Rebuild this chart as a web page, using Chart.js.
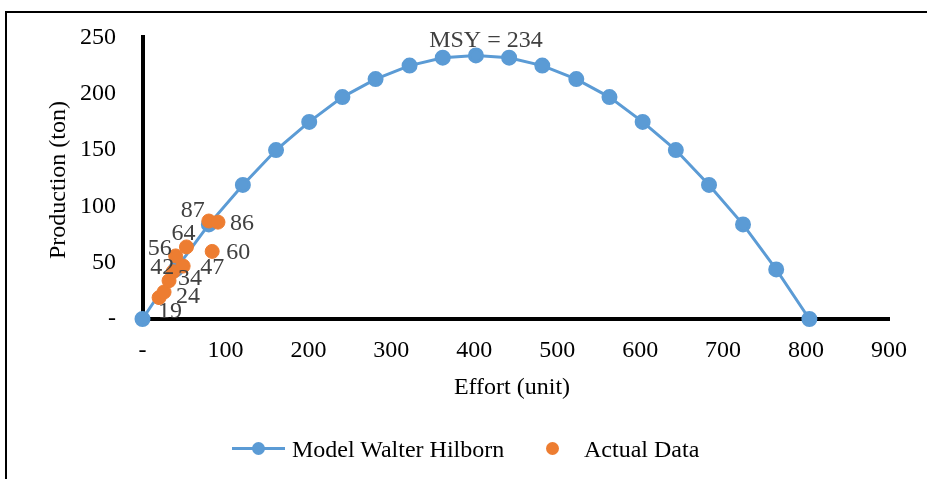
<!DOCTYPE html>
<html>
<head>
<meta charset="utf-8">
<script src="https://cdn.jsdelivr.net/npm/chart.js@4"></script>
<style>
  body { margin: 0; background: #fff; overflow: hidden; font-family: "Liberation Serif", "Times New Roman", serif; }
  #frame { position: absolute; left: 5px; top: 11px; width: 940px; height: 480px; border-top: 2px solid #000; border-left: 2px solid #000; }
  #chart { position: absolute; left: 0; top: 0; }
  .title { position: absolute; font-size: 24px; color: #000; white-space: nowrap; line-height: 1; }
  #ytitle { left: 57px; top: 180px; transform: translate(-50%, -50%) rotate(-90deg); }
  #xtitle { left: 512px; top: 386px; transform: translate(-50%, -50%); }
  .leg { position: absolute; font-size: 24px; line-height: 1; white-space: nowrap; transform: translateY(-50%); }
  .lineicon { position: absolute; left: 232px; top: 447px; width: 53px; height: 3px; background: #5B9BD5; }
  .lineicon span { position: absolute; left: 20px; top: -5px; width: 13px; height: 13px; border-radius: 50%; background: #5B9BD5; }
  .doticon { position: absolute; left: 546px; top: 442px; width: 13px; height: 13px; border-radius: 50%; background: #ED7D31; }
</style>
</head>
<body>
<div id="frame">
  <canvas id="chart" width="930" height="467"></canvas>
</div>
<div class="title" id="ytitle">Production (ton)</div>
<div class="title" id="xtitle">Effort (unit)</div>
<div class="lineicon"><span></span></div>
<div class="leg" style="left:292px; top:449px;">Model Walter Hilborn</div>
<div class="doticon"></div>
<div class="leg" style="left:584px; top:449px;">Actual Data</div>
<script>
// model curve (Walter Hilborn)
const modelEffort = [0, 40, 80, 121, 161, 201, 241, 281, 322, 362, 402, 442, 482, 523, 563, 603, 643, 683, 724, 764, 804];
const modelProd = [0, 44, 84, 119, 150, 175, 197, 213, 225, 232, 234, 232, 225, 213, 197, 175, 150, 119, 84, 44, 0];
// observed
const actualEffort = [20, 26, 32, 37, 49, 40, 53, 84, 80, 91];
const actualProd = [19, 24, 34, 42, 47, 56, 64, 60, 87, 86];
const actualLabels = ["19", "24", "34", "42", "47", "56", "64", "60", "87", "86"];
const msyIndex = 10;
const msyText = "MSY = 234";
const xTicks = [0, 100, 200, 300, 400, 500, 600, 700, 800, 900];
const yTicks = [0, 50, 100, 150, 200, 250];

// where each label sits relative to its point
const labelOffsets = [[11, 14], [24, 5], [21, -2], [-11, -4], [29, 2], [-16, -7], [-3, -13], [26, 1], [-16, -10], [24, 2]];

const toPts = (xs, ys) => xs.map((x, i) => ({ x: x, y: ys[i] }));
const serif = "'Liberation Serif', serif";

const labelPlugin = {
  id: "pointLabels",
  afterDatasetsDraw(chart) {
    const ctx = chart.ctx;
    ctx.save();
    ctx.font = "24px " + serif;
    ctx.fillStyle = "#404040";
    ctx.textAlign = "center";
    ctx.textBaseline = "middle";
    chart.getDatasetMeta(0).data.forEach((pt, i) => {
      const o = labelOffsets[i];
      ctx.fillText(actualLabels[i], pt.x + o[0], pt.y + o[1]);
    });
    const peak = chart.getDatasetMeta(1).data[msyIndex];
    ctx.fillText(msyText, peak.x + 10, peak.y - 15);
    ctx.restore();
  }
};

new Chart(document.getElementById("chart"), {
  type: "scatter",
  data: {
    datasets: [
      {
        label: "Actual Data",
        data: toPts(actualEffort, actualProd),
        backgroundColor: "#ED7D31",
        borderColor: "#ED7D31",
        pointRadius: 7,
        clip: false,
        order: 0
      },
      {
        label: "Model Walter Hilborn",
        data: toPts(modelEffort, modelProd),
        showLine: true,
        borderColor: "#5B9BD5",
        backgroundColor: "#5B9BD5",
        borderWidth: 3,
        pointRadius: 6.5,
        clip: false,
        order: 1
      }
    ]
  },
  options: {
    responsive: false,
    animation: false,
    layout: { padding: { top: 0, right: 48, left: 0, bottom: 0 } },
    plugins: { legend: { display: false }, tooltip: { enabled: false } },
    scales: {
      x: {
        type: "linear",
        min: 0, max: 900,
        afterBuildTicks: (s) => { s.ticks = xTicks.map(v => ({ value: v })); },
        afterFit: (s) => { s.height = 161; },
        grid: { display: false, drawTicks: false },
        border: { display: true, color: "#000", width: 4 },
        ticks: {
          padding: 17,
          color: "#000",
          font: { family: serif, size: 24 },
          callback: (v) => v === 0 ? "-" : v
        }
      },
      y: {
        min: 0, max: 250,
        afterBuildTicks: (s) => { s.ticks = yTicks.map(v => ({ value: v })); },
        afterFit: (s) => { s.width = 135.5; },
        grid: { display: false, drawTicks: true, tickLength: 16.5 },
        border: { display: true, color: "#000", width: 4 },
        ticks: {
          padding: 10,
          color: "#000",
          font: { family: serif, size: 24 },
          callback: (v) => v === 0 ? "-" : v
        }
      }
    }
  },
  plugins: [labelPlugin]
});
</script>
</body>
</html>
